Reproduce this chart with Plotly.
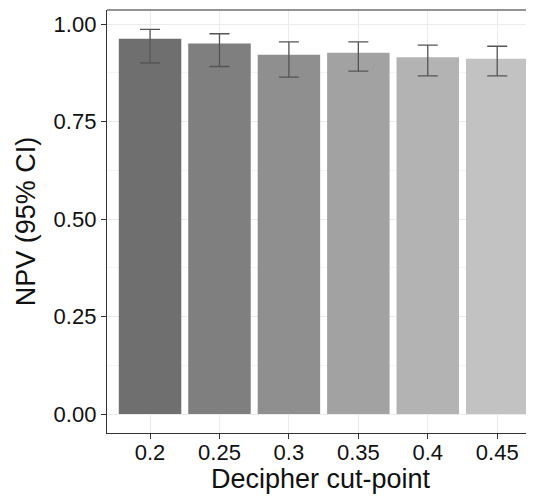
import plotly.graph_objects as go

categories = ["0.2", "0.25", "0.3", "0.35", "0.4", "0.45"]
npv = [0.962, 0.950, 0.921, 0.926, 0.915, 0.911]
ci_upper = [0.986, 0.975, 0.954, 0.954, 0.946, 0.943]
ci_lower = [0.900, 0.891, 0.864, 0.879, 0.867, 0.867]
bar_colors = ["#6f6f6f", "#7f7f7f", "#8f8f8f", "#a2a2a2", "#b3b3b3", "#c2c2c2"]
y_ticks = [0.0, 0.25, 0.5, 0.75, 1.0]
y_tick_labels = ["0.00", "0.25", "0.50", "0.75", "1.00"]

err_plus = [u - v for u, v in zip(ci_upper, npv)]
err_minus = [v - l for v, l in zip(npv, ci_lower)]

fig = go.Figure()
fig.add_trace(go.Bar(
    x=categories,
    y=npv,
    marker=dict(color=bar_colors, line=dict(width=0)),
    error_y=dict(type="data", symmetric=False, array=err_plus, arrayminus=err_minus,
                 color="#555555", thickness=1.3, width=10),
    showlegend=False,
))

fig.update_layout(
    width=526, height=486,
    margin=dict(l=99, r=0, t=2, b=61),
    paper_bgcolor="white", plot_bgcolor="white",
    bargap=0.1,
    font=dict(family="Liberation Sans, Arial, sans-serif", color="#111111"),
    xaxis=dict(
        type="category",
        categoryorder="array", categoryarray=categories,
        range=[-0.62, 5.53],
        showgrid=True, gridcolor="#ebebeb", gridwidth=1,
        showline=True, linecolor="#333333", linewidth=1.3,
        ticks="outside", ticklen=5, tickcolor="#333333", tickwidth=1.2,
        ticklabelstandoff=-6,
        tickfont=dict(size=22, color="#111111"),
        title=dict(text="Decipher cut-point", font=dict(size=27, color="#111111"), standoff=10),
        zeroline=False,
    ),
    yaxis=dict(
        range=[-0.0487, 1.0359],
        tickvals=y_ticks, ticktext=y_tick_labels,
        showgrid=True, gridcolor="#ebebeb", gridwidth=1,
        minor=dict(tick0=0, dtick=0.125, showgrid=True, gridcolor="#f4f4f4", gridwidth=1),
        showline=True, linecolor="#333333", linewidth=1.3,
        ticks="outside", ticklen=5, tickcolor="#333333", tickwidth=1.2,
        tickfont=dict(size=22, color="#111111"),
        title=dict(text="NPV (95% CI)", font=dict(size=27, color="#111111"), standoff=10),
        zeroline=False,
    ),
    shapes=[dict(type="line", xref="paper", yref="paper", x0=0, x1=1, y0=1, y1=1,
                 line=dict(color="#707070", width=1.5))],
)

fig.write_html("out.html")
